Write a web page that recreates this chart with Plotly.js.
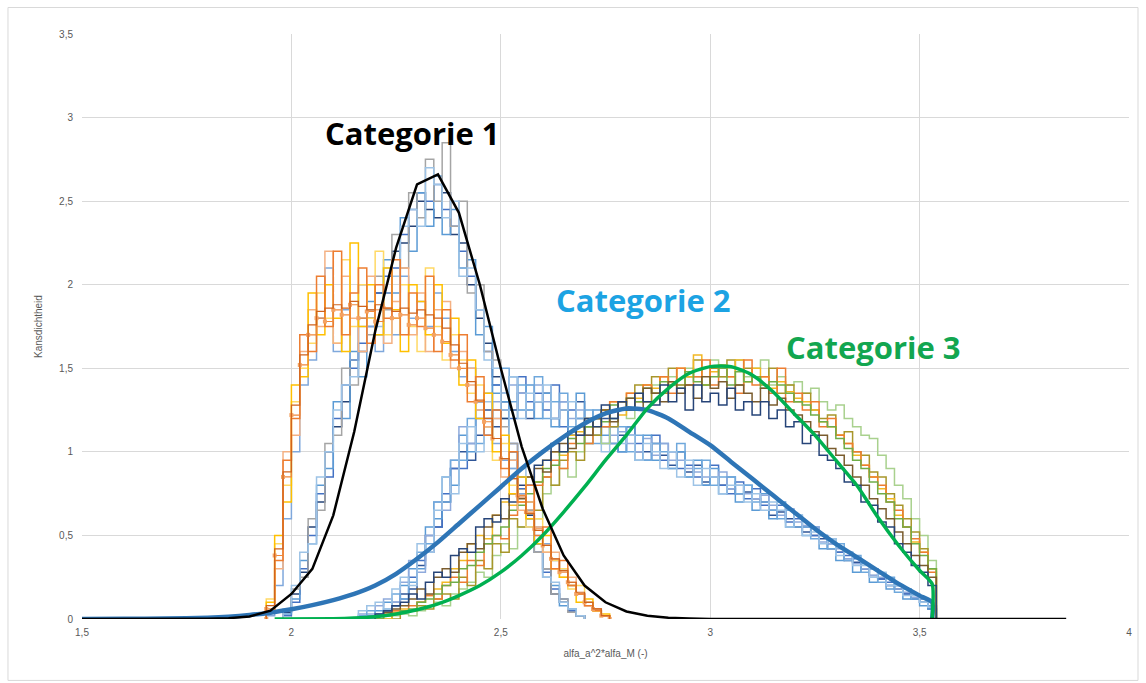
<!DOCTYPE html>
<html>
<head>
<meta charset="utf-8">
<script src="https://cdn.plot.ly/plotly-3.0.1.min.js"></script>
<style>
  html, body { margin: 0; padding: 0; background: #ffffff; }
  #chart { width: 1146px; height: 683px; }
</style>
</head>
<body>
<div id="chart"></div>
<script>
// ---- Histogram data: density per bin (bin width 0.02), series start at given left edge ----
const binWidth = 0.02;

// Categorie 1, early rising runs (start 1.94)
const cat1EarlyStart = 1.94;
const cat1A = [0.05,0.35,0.95,1.20,1.70,1.60,2.05,1.75,2.20,1.70,1.95,2.10,1.65,2.00,1.80,2.15,1.70,1.95,1.75,2.05,1.60,1.85,1.55,1.70,1.30,1.45,1.10,1.25,0.90,1.00,0.70,0.80,0.50,0.55,0.30,0.35,0.20,0.15,0.08,0.05,0.02];
const cat1B = [0.10,0.50,0.70,1.40,1.45,1.95,1.70,2.00,1.80,1.60,2.25,1.75,2.00,1.70,2.10,1.85,1.60,2.00,1.90,1.70,2.00,1.65,1.80,1.40,1.55,1.20,1.35,1.00,1.10,0.75,0.85,0.60,0.45,0.50,0.30,0.25,0.20,0.10,0.12,0.05,0.03];
const cat1C = [0.05,0.30,1.00,1.10,1.60,1.85,1.75,2.20,1.65,2.05,1.80,1.60,2.05,1.85,1.65,1.90,2.10,1.70,1.95,1.60,1.85,1.90,1.50,1.60,1.50,1.25,1.15,1.20,0.85,0.95,0.65,0.70,0.55,0.40,0.40,0.25,0.25,0.15,0.08,0.06,0.02];
const cat1D = [0.12,0.45,0.80,1.30,1.50,1.65,1.95,1.80,1.65,2.15,1.75,2.00,1.80,2.20,1.70,1.80,2.00,1.75,1.60,2.10,1.75,1.55,1.70,1.55,1.35,1.40,1.15,0.95,1.05,0.80,0.70,0.55,0.60,0.40,0.35,0.30,0.18,0.20,0.10,0.05,0.02];
const cat1E = [0.02,0.20,0.60,1.00,1.40,1.55,1.80,2.10,1.60,1.85,1.55,2.00,1.75,1.60,1.95,1.70,2.05,1.80,1.90,1.75,1.95,1.80,1.60,1.45,1.50,1.30,1.20,1.05,0.95,0.90,0.75,0.60,0.55,0.45,0.35,0.30,0.20,0.15,0.10,0.06,0.02];
const cat1Marked = [0.06,0.38,0.85,1.22,1.52,1.70,1.80,1.78,1.85,1.82,1.88,1.80,1.84,1.78,1.86,1.80,1.82,1.76,1.80,1.74,1.70,1.66,1.58,1.50,1.40,1.30,1.18,1.08,0.96,0.84,0.74,0.64,0.54,0.44,0.36,0.28,0.22,0.15,0.10,0.06,0.02];
const cat1Avg = [0.08,0.42,0.88,1.28,1.58,1.76,1.84,1.86,1.88,1.86,1.90,1.87,1.85,1.88,1.86,1.84,1.86,1.83,1.85,1.82,1.80,1.74,1.64,1.53,1.42,1.31,1.20,1.08,0.96,0.84,0.73,0.63,0.53,0.44,0.36,0.29,0.22,0.16,0.10,0.06,0.02];

// Categorie 1, later runs (start 1.98)
const cat1LateStart = 1.98;
const cat1F = [0.03,0.12,0.35,0.45,0.80,0.90,1.30,1.20,1.60,1.45,1.90,1.70,2.15,1.95,2.40,2.20,2.55,2.35,2.65,2.30,2.45,2.10,2.15,1.70,1.75,1.35,1.30,0.95,0.85,0.55,0.45,0.25,0.20,0.08,0.06,0.02];
const cat1G = [0.05,0.18,0.25,0.60,0.65,1.05,1.10,1.50,1.40,1.80,1.70,2.05,1.85,2.30,2.10,2.55,2.40,2.75,2.50,2.85,2.35,2.50,1.95,2.00,1.60,1.55,1.15,1.05,0.75,0.65,0.40,0.30,0.15,0.12,0.04,0.02];
const cat1H = [0.04,0.15,0.28,0.55,0.70,1.00,1.15,1.30,1.55,1.60,1.80,1.95,1.95,2.20,2.25,2.35,2.50,2.45,2.40,2.55,2.30,2.25,2.00,1.80,1.65,1.45,1.20,1.00,0.80,0.62,0.40,0.30,0.15,0.10,0.05,0.02];
const cat1I = [0.06,0.20,0.40,0.45,0.85,1.00,1.25,1.40,1.45,1.75,1.85,1.75,2.10,2.05,2.35,2.45,2.35,2.70,2.60,2.40,2.50,2.05,2.10,1.85,1.55,1.50,1.25,0.90,0.90,0.55,0.50,0.25,0.22,0.10,0.06,0.02];
const cat1J = [0.02,0.10,0.30,0.50,0.75,0.85,1.20,1.40,1.50,1.65,1.75,1.95,2.05,2.10,2.30,2.45,2.55,2.50,2.60,2.45,2.35,2.20,2.05,1.85,1.60,1.40,1.25,1.05,0.78,0.60,0.45,0.28,0.18,0.12,0.05,0.02];

// Categorie 2 runs (start 2.16)
const cat2Start = 2.16;
const cat2K1 = [0.00,0.02,0.05,0.10,0.08,0.20,0.30,0.30,0.55,0.60, 0.85,0.80,1.10,1.00,1.30,1.15,1.40,1.20,1.45,1.25, 1.40,1.20,1.35,1.15,1.30,1.10,1.35,1.05,1.25,1.10, 1.20,1.00,1.15,0.95,1.10,0.95,1.05,0.90,1.00,0.85, 0.95,0.80,0.90,0.75,0.85,0.70,0.80,0.65,0.75,0.60, 0.70,0.55,0.62,0.50,0.55,0.42,0.48,0.35,0.40,0.28, 0.33,0.22,0.27,0.18,0.20,0.12,0.15,0.08,0.06];
const cat2K2 = [0.02,0.05,0.02,0.06,0.15,0.12,0.22,0.40,0.45,0.70, 0.70,0.95,0.95,1.20,1.05,1.35,1.25,1.50,1.30,1.40, 1.25,1.45,1.20,1.30,1.35,1.15,1.20,1.25,1.05,1.15, 1.05,1.15,1.00,1.10,0.95,1.05,1.00,0.90,1.05,0.85, 0.90,0.95,0.80,0.85,0.85,0.75,0.80,0.70,0.70,0.65, 0.60,0.65,0.55,0.55,0.48,0.50,0.42,0.45,0.35,0.38, 0.28,0.30,0.22,0.25,0.16,0.18,0.12,0.10,0.08];
const cat2K3 = [0.05,0.08,0.10,0.06,0.18,0.25,0.20,0.45,0.40,0.65, 0.85,0.75,1.05,1.15,1.00,1.30,1.20,1.35,1.45,1.20, 1.35,1.30,1.40,1.20,1.25,1.30,1.10,1.20,1.15,1.00, 1.15,1.05,1.10,0.95,1.05,1.00,0.90,1.00,0.85,0.95, 0.80,0.90,0.85,0.75,0.80,0.80,0.70,0.75,0.65,0.70, 0.65,0.55,0.62,0.50,0.52,0.45,0.48,0.38,0.40,0.32, 0.32,0.25,0.28,0.20,0.20,0.14,0.14,0.10,0.07];
const cat2K4 = [0.00,0.00,0.03,0.05,0.10,0.12,0.25,0.35,0.40,0.55, 0.75,0.90,0.90,1.05,1.20,1.10,1.25,1.35,1.20,1.45, 1.30,1.35,1.25,1.40,1.15,1.25,1.20,1.10,1.20,1.05, 1.15,1.00,1.10,1.05,0.95,1.10,0.95,1.00,0.90,0.92, 0.85,0.80,0.92,0.80,0.75,0.82,0.72,0.78,0.68,0.65, 0.68,0.58,0.60,0.55,0.50,0.50,0.45,0.40,0.38,0.36, 0.30,0.30,0.24,0.22,0.20,0.15,0.12,0.12,0.08];
const cat2K5 = [0.03,0.03,0.08,0.12,0.10,0.22,0.35,0.28,0.50,0.70, 0.65,0.95,1.15,1.05,1.25,1.20,1.30,1.25,1.40,1.35, 1.25,1.40,1.30,1.20,1.30,1.20,1.25,1.15,1.20,1.15, 1.10,1.12,1.05,1.00,1.08,0.98,1.05,0.95,0.95,0.90, 0.88,0.85,0.85,0.88,0.78,0.80,0.75,0.72,0.74,0.68, 0.62,0.66,0.58,0.56,0.55,0.46,0.45,0.42,0.36,0.33, 0.30,0.26,0.25,0.20,0.18,0.16,0.13,0.10,0.07];
const cat2K6 = [0.00,0.01,0.02,0.04,0.08,0.15,0.18,0.32,0.50,0.55, 0.70,0.90,1.00,0.95,1.10,1.25,1.15,1.30,1.25,1.35, 1.20,1.30,1.35,1.20,1.25,1.10,1.30,1.20,1.10,1.20, 1.05,1.10,1.15,1.00,1.00,1.05,0.98,0.92,1.00,0.88, 0.92,0.82,0.85,0.80,0.78,0.75,0.76,0.72,0.70,0.62, 0.64,0.60,0.55,0.52,0.50,0.48,0.42,0.40,0.35,0.34, 0.30,0.26,0.24,0.20,0.18,0.15,0.12,0.10,0.06];

// Categorie 3 runs (start 2.20)
const cat3Start = 2.20;
const cat3L1 = [0.00,0.02,0.00,0.04,0.05,0.08,0.06,0.12,0.15,0.12, 0.25,0.20,0.35,0.30,0.45,0.40,0.60,0.55,0.70,0.65, 0.85,0.80,0.95,1.00,0.95,1.15,1.10,1.25,1.15,1.30, 1.25,1.40,1.30,1.45,1.35,1.50,1.40,1.45,1.55,1.40, 1.50,1.45,1.55,1.40,1.50,1.45,1.40,1.50,1.35,1.40, 1.30,1.35,1.25,1.20,1.22,1.10,1.12,1.00,0.98,0.88, 0.85,0.75,0.68,0.60,0.52,0.42,0.30];
const cat3L2 = [0.02,0.03,0.05,0.04,0.08,0.10,0.14,0.12,0.20,0.25, 0.22,0.35,0.32,0.45,0.50,0.48,0.62,0.70,0.65,0.80, 0.85,0.95,0.90,1.05,1.10,1.05,1.20,1.15,1.30,1.25, 1.35,1.30,1.40,1.35,1.45,1.35,1.50,1.40,1.45,1.55, 1.40,1.50,1.45,1.35,1.55,1.40,1.45,1.35,1.50,1.30, 1.35,1.25,1.30,1.15,1.20,1.10,1.05,1.00,0.92,0.85, 0.80,0.70,0.65,0.55,0.48,0.40,0.28];
const cat3L3 = [0.00,0.00,0.02,0.03,0.02,0.05,0.08,0.10,0.08,0.15, 0.18,0.22,0.28,0.25,0.38,0.45,0.42,0.55,0.62,0.60, 0.75,0.80,0.90,0.85,1.00,1.05,1.10,1.05,1.20,1.25, 1.20,1.35,1.30,1.40,1.35,1.45,1.40,1.50,1.45,1.40, 1.55,1.45,1.50,1.55,1.45,1.50,1.55,1.40,1.45,1.40, 1.42,1.35,1.38,1.30,1.25,1.28,1.20,1.15,1.10,1.08, 0.98,0.90,0.80,0.72,0.60,0.50,0.35];
const cat3L4 = [0.03,0.05,0.08,0.10,0.15,0.12,0.22,0.28,0.25,0.38, 0.42,0.40,0.55,0.60,0.58,0.72,0.70,0.85,0.80,0.92, 0.95,1.05,1.00,1.12,1.10,1.20,1.15,1.28,1.20,1.30, 1.25,1.35,1.30,1.28,1.40,1.30,1.38,1.25,1.40,1.30, 1.35,1.28,1.38,1.25,1.30,1.22,1.30,1.20,1.25,1.15, 1.18,1.05,1.10,0.98,0.95,0.90,0.82,0.80,0.70,0.68, 0.58,0.55,0.45,0.40,0.32,0.28,0.20];
const cat3L5 = [0.02,0.04,0.06,0.08,0.12,0.18,0.15,0.25,0.30,0.28, 0.40,0.45,0.42,0.55,0.62,0.60,0.75,0.72,0.85,0.90, 0.88,1.00,1.05,1.02,1.15,1.10,1.20,1.25,1.18,1.30, 1.32,1.25,1.38,1.35,1.30,1.42,1.35,1.40,1.32,1.45, 1.38,1.42,1.32,1.40,1.35,1.30,1.38,1.28,1.32,1.25, 1.22,1.18,1.12,1.10,1.02,0.98,0.92,0.85,0.80,0.72, 0.66,0.60,0.52,0.45,0.38,0.32,0.25];
const cat3L6 = [0.00,0.02,0.03,0.05,0.06,0.10,0.12,0.15,0.20,0.22, 0.30,0.32,0.40,0.45,0.50,0.55,0.65,0.68,0.75,0.82, 0.90,0.92,1.00,1.08,1.05,1.15,1.20,1.18,1.28,1.25, 1.32,1.30,1.38,1.35,1.42,1.40,1.38,1.48,1.42,1.40, 1.45,1.50,1.40,1.48,1.42,1.45,1.38,1.42,1.40,1.35, 1.30,1.28,1.22,1.18,1.15,1.08,1.02,0.95,0.90,0.82, 0.75,0.70,0.60,0.55,0.45,0.38,0.30];
const cat3L7 = [0.02,0.00,0.04,0.06,0.05,0.10,0.14,0.18,0.22,0.30, 0.35,0.45,0.50,0.48,0.62,0.70,0.68,0.78,0.85,0.82, 0.95,1.00,0.98,1.10,1.12,1.20,1.15,1.25,1.30,1.22, 1.35,1.32,1.40,1.38,1.45,1.42,1.50,1.45,1.58,1.40, 1.48,1.52,1.45,1.55,1.42,1.50,1.45,1.38,1.42,1.36, 1.32,1.30,1.25,1.18,1.15,1.10,1.05,0.98,0.92,0.85, 0.78,0.72,0.62,0.55,0.46,0.40,0.30];

// ---- Fitted density curves ----
const fit1X = [1.50,1.60,1.70,1.80,1.85,1.90,1.95,2.00,2.05,2.10,2.15,2.20,2.25,2.30,2.35,2.40,2.45,2.50,2.55,2.60,2.65,2.70,2.75,2.80,2.85,2.90,2.95,3.00,3.20,3.40,3.60,3.85];
const fit1Y = [0,0,0,0.002,0.005,0.015,0.05,0.15,0.30,0.62,1.12,1.72,2.22,2.60,2.66,2.43,2.00,1.50,1.03,0.66,0.38,0.20,0.10,0.045,0.02,0.008,0.003,0,0,0,0,0];

const fit2X = [1.50,1.60,1.70,1.80,1.85,1.90,1.95,2.00,2.05,2.10,2.15,2.20,2.25,2.30,2.35,2.40,2.45,2.50,2.55,2.60,2.65,2.70,2.75,2.80,2.85,2.90,2.95,3.00,3.05,3.10,3.15,3.20,3.25,3.30,3.35,3.40,3.45,3.50,3.53,3.53];
const fit2Y = [0,0.001,0.003,0.008,0.014,0.024,0.038,0.058,0.083,0.113,0.15,0.20,0.27,0.36,0.46,0.57,0.68,0.79,0.90,1.00,1.09,1.17,1.23,1.26,1.25,1.20,1.12,1.04,0.94,0.84,0.74,0.64,0.54,0.45,0.37,0.29,0.21,0.14,0.10,0];

const fit3X = [1.96,2.10,2.15,2.20,2.25,2.30,2.35,2.40,2.45,2.50,2.55,2.60,2.65,2.70,2.75,2.80,2.85,2.90,2.95,3.00,3.05,3.10,3.15,3.20,3.25,3.30,3.35,3.40,3.45,3.50,3.53,3.53];
const fit3Y = [0,0.002,0.006,0.014,0.03,0.055,0.09,0.14,0.20,0.28,0.38,0.50,0.64,0.79,0.95,1.10,1.26,1.38,1.47,1.51,1.51,1.46,1.36,1.23,1.10,0.95,0.80,0.61,0.44,0.29,0.21,0];

// ---- Labels ----
const categoryLabels = ['Categorie 1', 'Categorie 2', 'Categorie 3'];
const xTitle = 'alfa_a^2*alfa_M (-)';
const yTitle = 'Kansdichtheid';

// Build a stepped outline for one histogram run
function stepTrace(start, vals, color, width, extra) {
  const xs = [start], ys = [0];
  vals.forEach((v, i) => { xs.push(+(start + i * binWidth).toFixed(4)); ys.push(v); });
  xs.push(+(start + vals.length * binWidth).toFixed(4)); ys.push(0);
  return Object.assign({
    type: 'scatter', mode: 'lines', x: xs, y: ys,
    line: { shape: 'hv', color: color, width: width },
    hoverinfo: 'skip', showlegend: false
  }, extra || {});
}

const traces = [
  // categorie 2 runs
  stepTrace(cat2Start, cat2K6, '#2F5597', 1.5),
  stepTrace(cat2Start, cat2K4, '#4472C4', 1.5),
  stepTrace(cat2Start, cat2K1, '#5B9BD5', 1.5),
  stepTrace(cat2Start, cat2K5, '#8FAADC', 1.5),
  stepTrace(cat2Start, cat2K2, '#6FA8DC', 1.5),
  stepTrace(cat2Start, cat2K3, '#9DC3E6', 1.5),
  // categorie 3 runs
  stepTrace(cat3Start, cat3L3, '#A9D18E', 1.5),
  stepTrace(cat3Start, cat3L1, '#A8962A', 1.5),
  stepTrace(cat3Start, cat3L7, '#F2B824', 1.5),
  stepTrace(cat3Start, cat3L2, '#ED7D31', 1.5),
  stepTrace(cat3Start, cat3L6, '#70AD47', 1.5),
  stepTrace(cat3Start, cat3L5, '#7A5C2E', 1.5),
  stepTrace(cat3Start, cat3L4, '#264478', 1.5),
  // categorie 1 later runs
  stepTrace(cat1LateStart, cat1H, '#264478', 1.5),
  stepTrace(cat1LateStart, cat1J, '#4472C4', 1.5),
  stepTrace(cat1LateStart, cat1F, '#5B9BD5', 1.5),
  stepTrace(cat1LateStart, cat1G, '#A5A5A5', 1.5),
  stepTrace(cat1LateStart, cat1I, '#9DC3E6', 1.5),
  // categorie 1 early runs
  stepTrace(cat1EarlyStart, cat1E, '#7FA8DC', 1.5),
  stepTrace(cat1EarlyStart, cat1D, '#FFD966', 1.5),
  stepTrace(cat1EarlyStart, cat1C, '#F4B183', 1.5),
  stepTrace(cat1EarlyStart, cat1B, '#FFC000', 1.5),
  stepTrace(cat1EarlyStart, cat1A, '#ED7D31', 1.5),
  stepTrace(cat1EarlyStart, cat1Marked, '#F0883A', 1.2,
    { mode: 'lines+markers', marker: { symbol: 'square', size: 4, color: '#F4A261' } }),
  stepTrace(cat1EarlyStart, cat1Avg, '#D0641E', 1.2),
  // fitted curves
  { type: 'scatter', mode: 'lines', x: fit2X, y: fit2Y, line: { color: '#2E75B6', width: 4.5, shape: 'spline', smoothing: 0.6 }, hoverinfo: 'skip', showlegend: false },
  { type: 'scatter', mode: 'lines', x: fit3X, y: fit3Y, line: { color: '#00B050', width: 3.5, shape: 'spline', smoothing: 0.6 }, hoverinfo: 'skip', showlegend: false },
  { type: 'scatter', mode: 'lines', x: fit1X, y: fit1Y, line: { color: '#000000', width: 2.5 }, hoverinfo: 'skip', showlegend: false }
];

const tickFont = { family: 'Liberation Sans, Arial, sans-serif', size: 10, color: '#595959' };
const titleFont = { family: 'Liberation Sans, Arial, sans-serif', size: 10, color: '#595959' };
const labelFont = { family: 'Open Sans, sans-serif', size: 31 };

const layout = {
  width: 1146, height: 683,
  margin: { l: 82, r: 17, t: 34, b: 64 },
  paper_bgcolor: '#ffffff', plot_bgcolor: '#ffffff',
  separators: ',.',
  showlegend: false,
  xaxis: {
    range: [1.5, 4], dtick: 0.5, tick0: 1.5,
    showgrid: true, gridcolor: '#d9d9d9', gridwidth: 1,
    zeroline: false, showline: false, ticks: '',
    tickfont: tickFont, ticklabelstandoff: 6,
    title: { text: xTitle, font: titleFont, standoff: 12 }
  },
  yaxis: {
    range: [0, 3.5], dtick: 0.5,
    showgrid: true, gridcolor: '#d9d9d9', gridwidth: 1,
    zeroline: false, showline: false, ticks: '',
    tickfont: tickFont, ticklabelstandoff: 8,
    title: { text: yTitle, font: titleFont, standoff: 14 }
  },
  annotations: [
    { x: 2.29, y: 2.91, xref: 'x', yref: 'y', text: '<b>' + categoryLabels[0] + '</b>', showarrow: false,
      font: Object.assign({}, labelFont, { color: '#000000' }) },
    { x: 2.84, y: 1.91, xref: 'x', yref: 'y', text: '<b>' + categoryLabels[1] + '</b>', showarrow: false,
      font: Object.assign({}, labelFont, { color: '#1CA3E3' }) },
    { x: 3.39, y: 1.63, xref: 'x', yref: 'y', text: '<b>' + categoryLabels[2] + '</b>', showarrow: false,
      font: Object.assign({}, labelFont, { color: '#12A650' }) }
  ],
  shapes: [
    { type: 'rect', xref: 'paper', yref: 'paper', x0: -0.0707, x1: 1.0086, y0: -0.105, y1: 1.0453,
      line: { color: '#d9d9d9', width: 1 }, fillcolor: 'rgba(0,0,0,0)', layer: 'below' }
  ]
};

Plotly.newPlot('chart', traces, layout, { displayModeBar: false, staticPlot: true });
</script>
</body>
</html>
